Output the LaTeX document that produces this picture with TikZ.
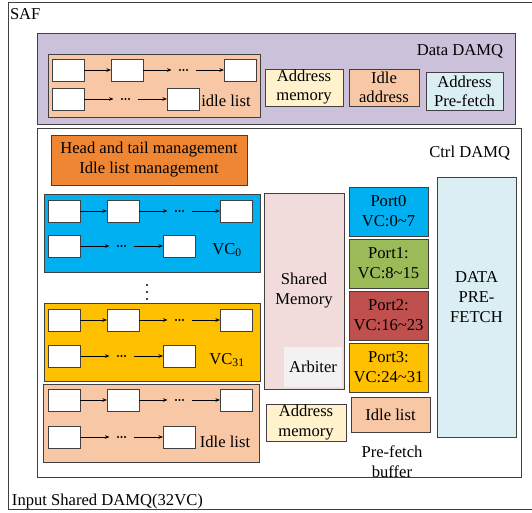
\documentclass[tikz,border=0pt]{standalone}
\usepackage{fontspec}
\setmainfont{Liberation Serif}
\usetikzlibrary{calc,arrows.meta}

\definecolor{lavender}{HTML}{CCC1DA}
\definecolor{peach}{HTML}{F8C8A6}
\definecolor{cream}{HTML}{FFF2CC}
\definecolor{paleblue}{HTML}{DAEEF3}
\definecolor{mgmt}{HTML}{EE8633}
\definecolor{cyanblue}{HTML}{00B0F0}
\definecolor{amber}{HTML}{FFC000}
\definecolor{olive}{HTML}{9BBB59}
\definecolor{brick}{HTML}{C0504D}
\definecolor{pinkmem}{HTML}{F2DCDB}
\definecolor{lightgray}{HTML}{F2F2F2}
\definecolor{edge}{HTML}{404040}

% rectangle from corner (#2,#3) to (#4,#5), style #6, text #7, name #1
\newcommand\blk[7]{%
  \node[#6, minimum width={#4-#2}, minimum height={#5-#3}] (#1)
    at ({(#2+#4)/2},{(#3+#5)/2}) {#7};}

% two rows of a linked list; #1 prefix, #2 left x, #3/#4 tops of the rows
\newcommand\chain[4]{%
  \node[cell] (#1-a1) at ({#2+16},{#3+11}) {};
  \node[cell] (#1-a2) at ({#2+75},{#3+11}) {};
  \node[cell] (#1-a3) at ({#2+188},{#3+11}) {};
  \node[cell] (#1-b1) at ({#2+16},{#4+11}) {};
  \node[cell] (#1-b2) at ({#2+131},{#4+11}) {};
  \node[ell] (#1-ad) at ($(#1-a2.east)!0.5!(#1-a3.west)$) {};
  \node[ell] (#1-bd) at ($(#1-b1.east)!0.5!(#1-b2.west)$) {};
  \draw[link] (#1-a1) -- (#1-a2);
  \draw[link] (#1-a2) -- (#1-ad);
  \draw[link] (#1-ad) -- (#1-a3);
  \draw[link] (#1-b1) -- (#1-bd);
  \draw[link] (#1-bd) -- (#1-b2);}

\begin{document}
\begin{tikzpicture}[x=1pt, y=-1pt,
  font=\fontsize{16.6}{20}\selectfont,
  box/.style={draw=edge, line width=0.8pt, inner sep=0pt, outer sep=0pt, align=center},
  plain/.style={inner sep=0pt, outer sep=0pt, align=center},
  cell/.style={box, fill=white, minimum width=32pt, minimum height=22pt},
  ell/.style={inner sep=0pt, outer sep=0pt, minimum width=24pt, minimum height=4pt,
    path picture={\foreach \i in {-3.5,0,3.5}
      \fill ([xshift=\i pt]path picture bounding box.center) circle (1.2pt);}},
  link/.style={line width=0.6pt, -{Stealth[length=4.5pt,width=3.5pt]}},
  lbl/.style={inner sep=0pt, outer sep=0pt}]

\useasboundingbox (0,0) rectangle (532,512);
\fill[white] (0,0) rectangle (532,512);

% whole switch buffer
\blk{saf}{8}{2}{535}{509}{box, fill=white, line width=0.9pt}{}
\node[lbl, anchor=base west] (saft) at (10,19.5) {SAF};
\node[lbl, anchor=base west] (inputt) at (12,505) {Input Shared DAMQ(32VC)};

% data DAMQ
\blk{data}{37}{33}{515}{124}{box, fill=lavender}{}
\node[lbl, anchor=base east] (datat) at (503,55) {Data DAMQ};
\blk{dlist}{48}{54}{260}{117}{box, fill=peach}{}
\chain{dq}{52}{59}{88}
\node[lbl] (dqidle) at (226,101) {idle list};
\blk{daddr}{265}{69}{343}{106}{box, fill=cream}{Address\\[-1pt]memory}
\blk{didle}{349}{69}{419}{106}{box, fill=peach}{Idle\\[-1pt]address}
\blk{dpre}{426}{72}{503}{110}{box, fill=paleblue}{Address\\[-1pt]Pre-fetch}

% control DAMQ
\blk{ctrl}{37}{128}{521}{477}{box, fill=white}{}
\node[lbl, anchor=base east] (ctrlt) at (510,157) {Ctrl DAMQ};
\blk{mgmt}{51}{135}{247}{185}{box, fill=mgmt}{Head and tail management\\Idle list management}

\blk{vca}{44}{194}{260}{272}{box, fill=cyanblue}{}
\chain{va}{48}{200}{235}
\node[lbl] (vcat) at (227,250) {VC\textsubscript{0}};

\foreach \yy in {285,292,299} \fill (147,\yy) circle (1.2pt);

\blk{vcb}{44}{303}{260}{381}{box, fill=amber}{}
\chain{vb}{48}{309}{345}
\node[lbl] (vcbt) at (227,360) {VC\textsubscript{31}};

\blk{ilist}{43}{384}{259}{462}{box, fill=peach}{}
\chain{il}{48}{389}{426}
\node[lbl] (ilistt) at (225,442) {Idle list};

\blk{shm}{264}{193}{344}{389}{box, fill=pinkmem}{Shared\\Memory}
\blk{arb}{284}{347}{342}{387}{plain, fill=lightgray}{Arbiter}
\blk{caddr}{266}{404}{346}{441}{box, fill=cream}{Address\\memory}

\blk{p0}{349}{187}{428}{236}{box, fill=cyanblue}{Port0\\VC:0\textasciitilde 7}
\blk{p1}{349}{239}{428}{288}{box, fill=olive}{Port1:\\VC:8\textasciitilde 15}
\blk{p2}{349}{291}{428}{340}{box, fill=brick}{Port2:\\VC:16\textasciitilde 23}
\blk{p3}{349}{343}{428}{392}{box, fill=amber}{Port3:\\VC:24\textasciitilde 31}
\blk{pidle}{351}{397}{430}{432}{box, fill=peach}{Idle list}
\node[lbl, align=center] (pbuf) at (392,462) {Pre-fetch\\buffer};

\blk{dpf}{437}{177}{516}{437}{box, fill=paleblue}{}
\node[lbl, align=center] (dpft) at (476.5,297) {DATA\\PRE-\\FETCH};

\end{tikzpicture}
\end{document}
